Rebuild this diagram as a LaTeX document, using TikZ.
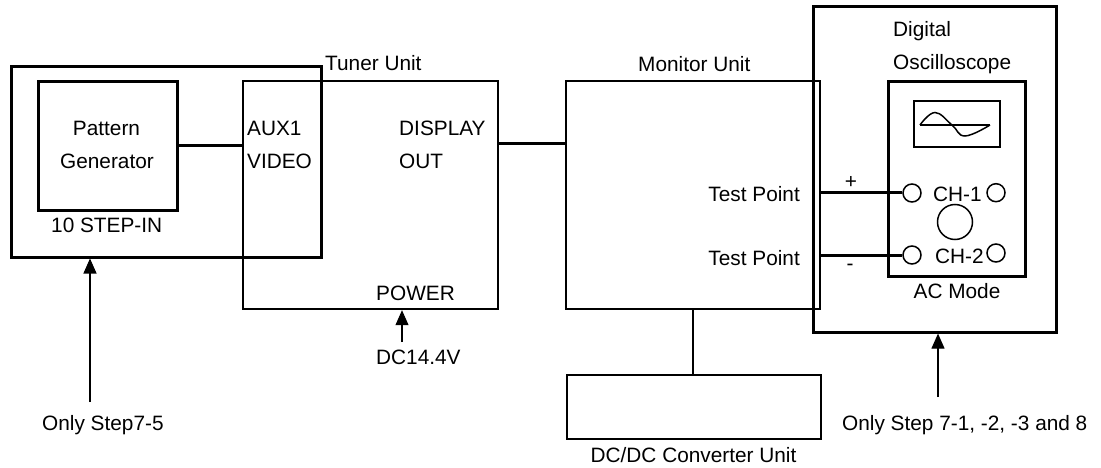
\documentclass[tikz,border=0pt]{standalone}
\usepackage{fontspec}
\setmainfont{Liberation Sans}
\usetikzlibrary{arrows.meta,calc}
\begin{document}
\begin{tikzpicture}[x=1pt,y=-1pt,
  lbl/.style={inner sep=0pt, font=\fontsize{20.8}{24}\selectfont},
  box/.style={draw, inner sep=0pt, anchor=north west},
  thk/.style={line width=3pt},
  med/.style={line width=2.2pt},
  wire/.style={line width=3pt},
  port/.style={circle, draw, line width=1.5pt, inner sep=0pt, minimum size=18pt},
  arr/.style={line width=1.1pt, -{Triangle[length=15pt,width=13pt]}},
]
\useasboundingbox (0,0) rectangle (1101,468);

% boxes
\node[box, thk, minimum width=310pt, minimum height=190.5pt] (outer) at (10,65) {};
\node[box, thk, minimum width=139pt, minimum height=129pt] (pg) at (37,80) {};
\node[box, med, minimum width=255pt, minimum height=228pt] (tuner) at (242,80) {};
\node[box, med, minimum width=254pt, minimum height=228pt] (mon) at (565,80) {};
\node[box, line width=2.6pt, minimum width=243pt, minimum height=326pt] (scope) at (812,5) {};
\node[box, thk, minimum width=137pt, minimum height=195pt] (inner) at (887,80) {};
\node[box, line width=1.6pt, minimum width=86pt, minimum height=46pt] (screen) at (913,100) {};
\node[box, med, minimum width=254pt, minimum height=64pt] (dc) at (566,374) {};

% screen trace
\draw[line width=1.5pt] (920,125) -- (990,125);
\draw[line width=1.5pt] plot[smooth, tension=0.7] coordinates {(920,125) (935,112.5) (952,125) (965,136) (990,125)};

% ports
\node[port] (c1) at (912,193) {};
\node[port] (c1r) at (996,192.7) {};
\node[port, minimum size=35pt] (big) at (955,222) {};
\node[port] (c2) at (912,255) {};
\node[port] (c2r) at (996,253) {};

% wires
\draw[wire] (pg.east) -- (pg.east -| tuner.west);
\coordinate (dout) at (497,143.5);
\draw[wire] (dout) -- (dout -| mon.west);
\draw[wire] (c1.west -| mon.east) -- (c1.west);
\draw[wire] (c2.west -| mon.east) -- (c2.west);
\draw[med] (mon.south) -- (mon.south |- dc.north);

% arrows
\coordinate (t1) at (90,402);
\draw[arr] (t1) -- (t1 |- outer.south);
\coordinate (t2) at (402,342);
\draw[arr] (t2) -- (t2 |- tuner.south);
\coordinate (t3) at (938,397);
\draw[arr] (t3) -- (t3 |- scope.south);

% labels
\node[lbl, anchor=base west] (ltuner) at (325,71) {Tuner Unit};
\node[lbl, anchor=base] (lpat) at (106.5,136) {Pattern};
\node[lbl, anchor=base] (lgen) at (107,168.3) {Generator};
\node[lbl, anchor=base west] (laux) at (247,136) {AUX1};
\node[lbl, anchor=base west] (lvid) at (247,168) {VIDEO};
\node[lbl, anchor=base west] (ldisp) at (399,136) {DISPLAY};
\node[lbl, anchor=base west] (lout) at (399,168) {OUT};
\node[lbl, anchor=base west] (lstep) at (51,233) {10 STEP-IN};
\node[lbl, anchor=base west] (lpow) at (376,300) {POWER};
\node[lbl, anchor=base west] (ldc) at (376,364) {DC14.4V};
\node[lbl, anchor=base west] (lonly1) at (42,430) {Only Step7-5};
\node[lbl, anchor=base west] (lmon) at (638,72) {Monitor Unit};
\node[lbl, anchor=base west] (ldig) at (893,37) {Digital};
\node[lbl, anchor=base west] (losc) at (893,70) {Oscilloscope};
\node[lbl, anchor=base east] (ltp1) at (800,201) {Test Point};
\node[lbl, anchor=base east] (ltp2) at (800,265) {Test Point};
\node[lbl, anchor=base west] (lch1) at (933,201) {CH-1};
\node[lbl, anchor=base west] (lch2) at (935,263) {CH-2};
\node[lbl] (lplus) at (851,182) {+};
\node[lbl] (lminus) at (850,267) {-};
\node[lbl, anchor=base] (lac) at (957,298) {AC Mode};
\node[lbl, anchor=base] (ldcdc) at (693.5,462) {DC/DC Converter Unit};
\node[lbl, anchor=base west] (lonly2) at (842,430) {Only Step 7-1, -2, -3 and 8};
\end{tikzpicture}
\end{document}
